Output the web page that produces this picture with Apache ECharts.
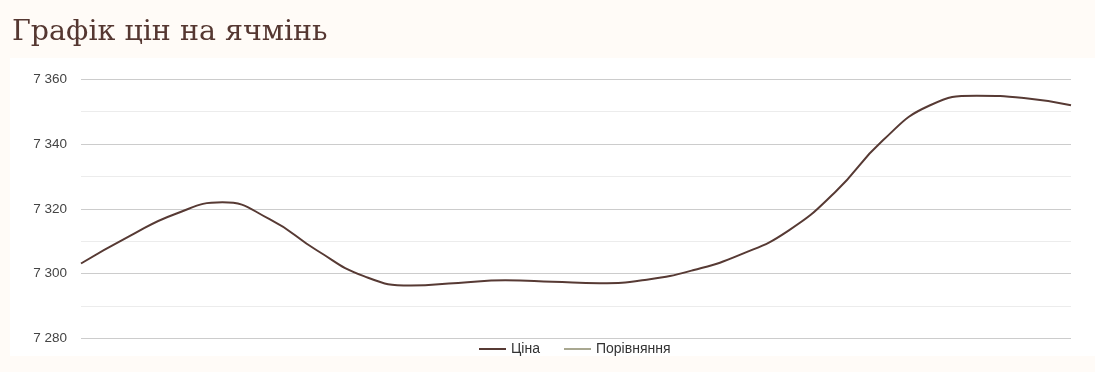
<!DOCTYPE html>
<html>
<head>
<meta charset="utf-8">
<script src="https://cdn.jsdelivr.net/npm/echarts@6/dist/echarts.min.js"></script>
<style>
html,body{margin:0;padding:0;background:#fffbf7;}
#c{width:1095px;height:372px;}
</style>
</head>
<body>
<div id="c"></div>
<script>
const categories = ['1','2','3','4','5','6','7','8','9','10','11','12','13','14','15','16','17','18','19','20','21','22'];
const priceValues = [7303.1, 7311.3, 7318.4, 7322.0, 7316.8, 7307.2, 7299.2, 7296.3, 7297.1, 7297.9, 7297.5,
                     7297.0, 7298.1, 7301.1, 7305.9, 7313.2, 7325.2, 7341.0, 7351.9, 7354.9, 7354.2, 7352.0];
const compareValues = [];
const yTicks = [7280, 7300, 7320, 7340, 7360];

const chart = echarts.init(document.getElementById('c'));
chart.setOption({
  backgroundColor: '#fffbf7',
  animation: false,
  title: {
    text: 'Графік цін на ячмінь',
    left: 7, top: 13,
    textStyle: {fontFamily: 'DejaVu Serif', fontSize: 28.5, fontWeight: 'normal', color: '#553731'}
  },
  graphic: [{
    type: 'rect', z: -10, silent: true,
    shape: {x: 10, y: 58, width: 1085, height: 298},
    style: {fill: '#ffffff'}
  }],
  grid: {left: 81, right: 24, top: 79.3, bottom: 33.7},
  legend: {
    left: 479, bottom: 16, padding: 0,
    itemWidth: 27, itemHeight: 2, itemGap: 24,
    icon: 'rect',
    textStyle: {fontFamily: 'Liberation Sans', fontSize: 14, color: '#333'},
    data: [{name: 'Ціна'}, {name: 'Порівняння'}]
  },
  xAxis: {
    type: 'category', data: categories, boundaryGap: false,
    axisLine: {show: false}, axisTick: {show: false}, axisLabel: {show: false}
  },
  yAxis: {
    type: 'value', min: yTicks[0], max: yTicks[yTicks.length-1], interval: 20,
    axisLine: {show: false}, axisTick: {show: false},
    axisLabel: {
      margin: 14, fontFamily: 'Liberation Sans', fontSize: 13.5, color: '#444',
      formatter: v => String(v).replace(/\B(?=(\d{3})+(?!\d))/g, ' ')
    },
    splitLine: {lineStyle: {color: '#cccccc', width: 1}},
    minorTick: {show: false, splitNumber: 2},
    minorSplitLine: {show: true, lineStyle: {color: '#ececec', width: 1}}
  },
  series: [
    {name: 'Ціна', type: 'line', data: priceValues, smooth: 0.5, showSymbol: false, symbol: 'none',
     lineStyle: {color: '#573a34', width: 2}, itemStyle: {color: '#573a34'}},
    {name: 'Порівняння', type: 'line', data: compareValues, smooth: true, showSymbol: false, symbol: 'none',
     lineStyle: {color: '#a9a891', width: 2}, itemStyle: {color: '#a9a891'}}
  ]
});
</script>
</body>
</html>
